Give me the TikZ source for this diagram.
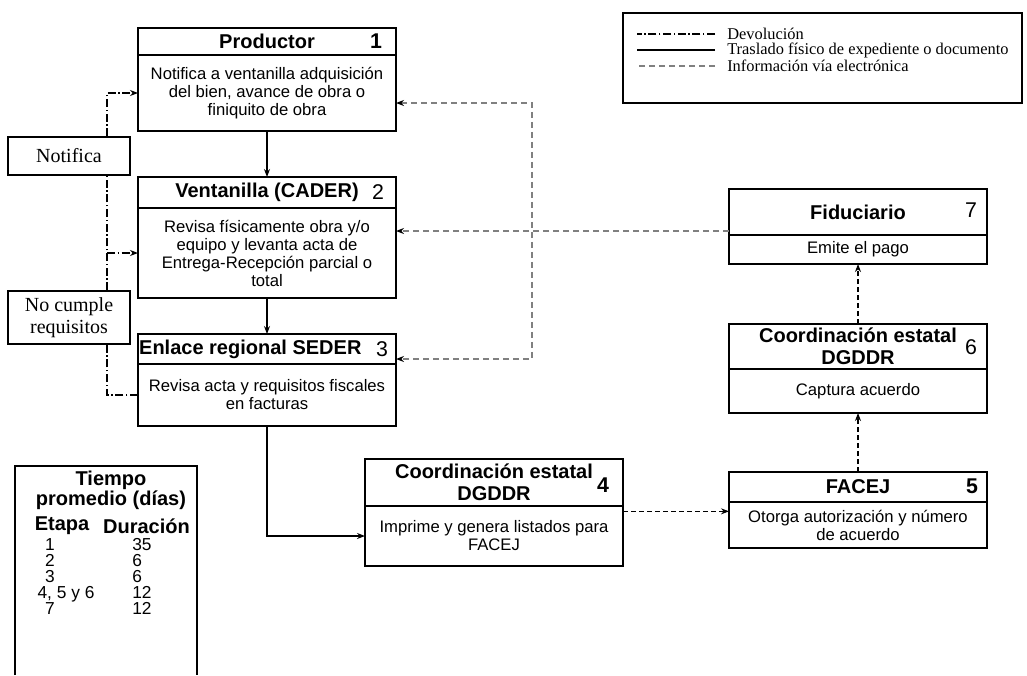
\documentclass[tikz,border=0pt]{standalone}
\usepackage{fontspec}
\setmainfont{Liberation Sans}
\newfontfamily\tnr{Liberation Serif}
\usetikzlibrary{positioning,arrows.meta}
\definecolor{grisl}{RGB}{128,128,128}

\begin{document}
\begin{tikzpicture}[x=0.75pt,y=-0.75pt,
    encab/.style={rectangle,draw,line width=0.8pt,outer sep=0pt,inner sep=0pt,minimum width=193.5pt,align=center,font=\fontsize{15}{16.5}\selectfont\bfseries},
    cuerpo/.style={rectangle,draw,line width=0.8pt,outer sep=0pt,inner sep=0pt,minimum width=193.5pt,align=center,font=\fontsize{12.5}{13.5}\selectfont},
    num/.style={inner sep=0pt,font=\fontsize{16}{16}\selectfont},
    numb/.style={inner sep=0pt,font=\fontsize{16}{16}\selectfont\bfseries},
    cuadro/.style={rectangle,draw,line width=0.8pt,fill=white,inner sep=0pt,minimum width=91.5pt,align=center,font=\tnr\fontsize{15}{16.5}\selectfont},
    leytxt/.style={anchor=west,inner sep=0pt,font=\tnr\fontsize{12.3}{13}\selectfont},
    tabtit/.style={inner sep=0pt,font=\fontsize{15}{16}\selectfont\bfseries},
    tabfila/.style={inner sep=0pt,text height=9.4pt,text depth=2.4pt,font=\fontsize{13}{14}\selectfont},
    flecha/.style={-{Stealth[length=6pt,width=4.5pt]}},
    devol/.style={line width=0.8pt,dash pattern=on 6pt off 2pt on 1pt off 2pt},
    fisico/.style={line width=0.8pt},
    elec/.style={line width=1.3pt,color=grisl,dash pattern=on 4.5pt off 3pt},
    digit/.style={line width=0.8pt,dash pattern=on 3.5pt off 2.5pt}]
    \useasboundingbox (0,0) rectangle (1027,675);

    % etapas de la izquierda
    \node[encab,minimum height=20.25pt] (prod) at (267,41.5) {Productor};
    \node[numb] (n1) at (376,41.5) {1};
    \node[cuerpo,minimum height=57pt,below=0pt of prod] (prodtxt) {Notifica a ventanilla adquisición\\del bien, avance de obra o\\finiquito de obra};

    \node[encab,minimum height=23.25pt] (vent) at (267,192.5) {Ventanilla (CADER)};
    \node[num] (n2) at (378,192.5) {2};
    \node[cuerpo,minimum height=67.5pt,below=0pt of vent] (venttxt) {Revisa físicamente obra y/o\\equipo y levanta acta de\\Entrega-Recepción parcial o\\total};

    \node[encab,minimum height=22.5pt] (enl) at (267,349) {Enlace regional SEDER\kern25pt};
    \node[num] (n3) at (382,349) {3};
    \node[cuerpo,minimum height=46.5pt,below=0pt of enl] (enltxt) {Revisa acta y requisitos fiscales\\en facturas};

    % etapas de abajo y derecha
    \node[encab,minimum height=35.25pt] (coordD) at (494,482.5) {Coordinación estatal\\DGDDR};
    \node[numb] (n4) at (603,485) {4};
    \node[cuerpo,minimum height=45pt,below=0pt of coordD] (coordDtxt) {Imprime y genera listados para\\FACEJ};

    \node[encab,minimum height=22.5pt] (facej) at (858,487) {FACEJ};
    \node[numb] (n5) at (972,486) {5};
    \node[cuerpo,minimum height=34.5pt,below=0pt of facej] (facejtxt) {Otorga autorización y número\\de acuerdo};

    \node[encab,minimum height=33.75pt] (coordE) at (858,346.5) {Coordinación estatal\\DGDDR};
    \node[num] (n6) at (971,347) {6};
    \node[cuerpo,minimum height=33pt,below=0pt of coordE] (coordEtxt) {Captura acuerdo};

    \node[encab,minimum height=34.5pt] (fid) at (858,212) {Fiduciario};
    \node[num] (n7) at (971,210) {7};
    \node[cuerpo,minimum height=21.75pt,below=0pt of fid] (fidtxt) {Emite el pago};

    % devoluciones
    \node[cuadro,minimum height=28.5pt] (notif) at (69,156) {Notifica};
    \node[cuadro,minimum height=39.75pt] (nocump) at (69,317.5) {No cumple\\requisitos};

    % leyenda
    \node[draw,line width=0.8pt,inner sep=0pt,minimum width=299.25pt,minimum height=67.5pt] (leyenda) at (822.5,58) {};
    \node[leytxt] (ley1) at (727,34) {Devolución};
    \node[leytxt] (ley2) at (727,50) {Traslado físico de expediente o documento};
    \node[leytxt] (ley3) at (727,66) {Información vía electrónica};
    \draw[devol] ([xshift=-9pt]ley1.west) -- ++(-58.5pt,0);
    \draw[fisico] ([xshift=-9pt]ley2.west) -- ++(-58.5pt,0);
    \draw[elec,line width=1pt] ([xshift=-9pt]ley3.west) -- ++(-58.5pt,0);

    % traslado fisico
    \draw[fisico,flecha] (prodtxt) -- (vent);
    \draw[fisico,flecha] (venttxt) -- (enl);
    \draw[fisico,flecha] (enltxt) |- (coordDtxt);

    % via digital
    \draw[digit,flecha] ([yshift=-4pt]coordDtxt.north east) -- ([yshift=-4pt]coordDtxt.north east -| facejtxt.west);
    \draw[digit,flecha] (facej) -- (coordEtxt);
    \draw[digit,flecha] (coordE) -- (fidtxt);

    % aviso del pago
    \coordinate (elA) at (532,103);
    \coordinate (elB) at (532,359);
    \draw[elec,-{Stealth[black,length=6pt,width=4.5pt]}] ([yshift=3pt]fid.south west) -- ([yshift=3pt]fid.south west -| venttxt.east);
    \draw[elec,{Stealth[black,length=6pt,width=4.5pt]}-{Stealth[black,length=6pt,width=4.5pt]}] (elA -| prodtxt.east) -- (elA) -- (elB) -- (elB -| enl.east);

    % regreso
    \coordinate (dv) at (107,0);
    \draw[devol] (enltxt.west) -| (dv |- nocump.south);
    \draw[devol] (dv |- nocump.north) -- (dv |- notif.south);
    \draw[devol,flecha] (dv |- venttxt.west) -- (venttxt.west);
    \draw[devol,flecha] (dv |- notif.north) |- (prodtxt.west);

    % tiempos
    \draw[fisico] (15,675) |- (197,466) -- (197,675);
    \node[tabtit] (tt1) at (111,480) {Tiempo};
    \node[tabtit] (tt2) at (111,500) {promedio (días)};
    \node[tabtit] (tt3) at (62,526) {Etapa};
    \node[tabtit] (tt4) at (146.5,526) {Duración};
    \node[tabfila] (e1) at (50,546) {1};
    \node[tabfila,anchor=west] (d1) at (132,546) {35};
    \node[tabfila] (e2) at (50,562) {2};
    \node[tabfila,anchor=west] (d2) at (132,562) {6};
    \node[tabfila] (e3) at (50,578) {3};
    \node[tabfila,anchor=west] (d3) at (132,578) {6};
    \node[tabfila] (e4) at (66,594) {4, 5 y 6};
    \node[tabfila,anchor=west] (d4) at (132,594) {12};
    \node[tabfila] (e5) at (50,610) {7};
    \node[tabfila,anchor=west] (d5) at (132,610) {12};
\end{tikzpicture}
\end{document}
